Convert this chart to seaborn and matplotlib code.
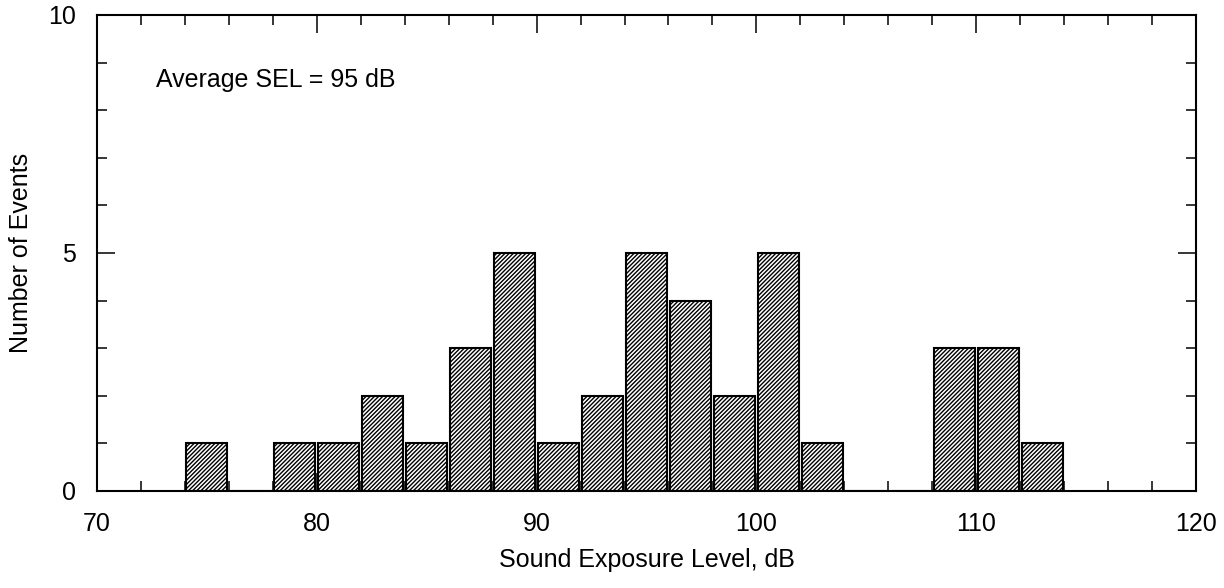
import numpy as np
import pandas as pd
import matplotlib
matplotlib.use("Agg")
import matplotlib.pyplot as plt
import seaborn as sns
from matplotlib.ticker import MultipleLocator

# bin centres (dB) and counts
sel_centers = [75, 79, 81, 83, 85, 87, 89, 91, 93, 95, 97, 99, 101, 103, 109, 111, 113]
event_counts = [1, 1, 1, 2, 1, 3, 5, 1, 2, 5, 4, 2, 5, 1, 3, 3, 1]

df = pd.DataFrame({"SEL": sel_centers, "Count": event_counts})

sns.set_style("ticks")
plt.rcParams["font.family"] = ["Liberation Sans", "DejaVu Sans"]
plt.rcParams["hatch.linewidth"] = 1.0
plt.rcParams["text.color"] = "black"
plt.rcParams["axes.labelcolor"] = "black"

fig = plt.figure(figsize=(12.24, 5.88), dpi=100)
ax = fig.add_axes([0.0792, 0.165, 0.898, 0.8095])

sns.histplot(data=df, x="SEL", weights="Count", binwidth=2, binrange=(74, 114),
             shrink=0.93, color="white", edgecolor="black", linewidth=1.5,
             alpha=1, ax=ax)
for p in ax.patches:
    p.set_hatch("////////")
    p.set_facecolor("white")

ax.set_xlim(70, 120)
ax.set_ylim(0, 10)
ax.xaxis.set_major_locator(MultipleLocator(10))
ax.xaxis.set_minor_locator(MultipleLocator(2))
ax.yaxis.set_major_locator(MultipleLocator(5))
ax.yaxis.set_minor_locator(MultipleLocator(1))
ax.tick_params(which="both", direction="in", top=True, right=True, width=1.1,
               labelsize=18, colors="black")
ax.tick_params(which="major", length=13)
ax.tick_params(axis="x", which="major", pad=15)
ax.tick_params(axis="y", which="major", pad=15)
ax.tick_params(which="minor", length=7)
for s in ax.spines.values():
    s.set_linewidth(1.5)
    s.set_color("black")

ax.text(72.7, 8.63, "Average SEL = 95 dB", fontsize=18, va="center", ha="left")
ax.set_xlabel("Sound Exposure Level, dB", fontsize=18, labelpad=9)
ax.set_ylabel("Number of Events", fontsize=18, labelpad=11)

fig.savefig("out.png", dpi=100)
